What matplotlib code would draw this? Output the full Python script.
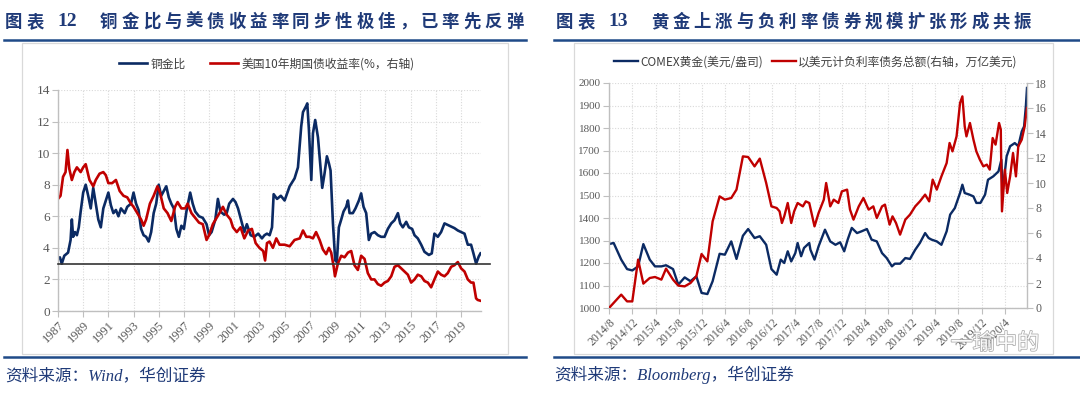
import matplotlib
matplotlib.use('Agg')
import matplotlib.pyplot as plt
from matplotlib.lines import Line2D
from matplotlib.patches import Rectangle
import matplotlib.patheffects as pe

# ---------------- data: left chart (copper/gold ratio & US 10Y) ----------------
ratio_year = [1987.0, 1987.15, 1987.3, 1987.5, 1987.8, 1988.0, 1988.1, 1988.2, 1988.35, 1988.5,
              1988.65, 1988.8, 1989.0, 1989.2, 1989.4, 1989.6, 1989.8, 1990.0, 1990.2, 1990.4,
              1990.6, 1990.8, 1991.0, 1991.2, 1991.4, 1991.6, 1991.8, 1992.0, 1992.3, 1992.5,
              1992.8, 1993.0, 1993.2, 1993.4, 1993.6, 1993.8, 1994.0, 1994.2, 1994.4, 1994.6,
              1994.8, 1995.0, 1995.2, 1995.4, 1995.6, 1995.8, 1996.0, 1996.2, 1996.4, 1996.6,
              1996.8, 1997.0, 1997.2, 1997.5, 1997.7, 1997.9, 1998.2, 1998.5, 1998.8, 1999.0,
              1999.2, 1999.5, 1999.7, 1999.9, 2000.2, 2000.4, 2000.6, 2000.9, 2001.1, 2001.3,
              2001.6, 2001.8, 2002.0, 2002.3, 2002.6, 2002.9, 2003.2, 2003.4, 2003.6, 2003.81,
              2004.0, 2004.13, 2004.4, 2004.7, 2005.0, 2005.4, 2005.79, 2006.06, 2006.32, 2006.46,
              2006.72, 2006.8, 2006.93, 2007.12, 2007.25, 2007.43, 2007.65, 2007.78, 2007.99, 2008.17,
              2008.36, 2008.52, 2008.65, 2008.84, 2009.02, 2009.15, 2009.31, 2009.5, 2009.68, 2009.89,
              2010.03, 2010.16, 2010.42, 2010.63, 2010.9, 2011.08, 2011.27, 2011.48, 2011.69, 2011.88,
              2012.14, 2012.41, 2012.67, 2012.94, 2013.2, 2013.47, 2013.73, 2014.0, 2014.18, 2014.39,
              2014.66, 2014.87, 2015.13, 2015.32, 2015.58, 2015.85, 2016.11, 2016.46, 2016.69, 2016.9,
              2017.17, 2017.43, 2017.7, 2017.96, 2018.23, 2018.49, 2018.76, 2019.02, 2019.29, 2019.55,
              2019.81, 2020.0, 2020.21, 2020.42, 2020.56]
ratio_val = [3.3, 3.4, 3.0, 3.5, 3.7, 4.5, 5.8, 4.7, 5.0, 4.8,
             5.3, 6.3, 7.5, 8.0, 7.3, 6.5, 7.8, 6.8, 5.8, 5.3,
             6.5, 7.0, 7.5, 6.7, 6.2, 6.4, 6.0, 6.5, 6.2, 6.6,
             6.8, 7.5, 6.8, 6.4, 5.2, 4.8, 4.7, 4.4, 5.0, 6.2,
             6.8, 8.0, 7.3, 7.6, 7.9, 7.2, 6.8, 6.5, 5.2, 4.7,
             5.4, 5.2, 6.3, 7.5, 6.8, 6.3, 6.0, 5.9, 5.5, 4.8,
             5.0, 5.8, 7.1, 6.3, 6.1, 6.2, 6.8, 7.1, 6.9, 6.5,
             5.6, 5.0, 5.5, 4.8, 4.7, 4.9, 4.6, 4.8, 4.9, 4.8,
             5.3, 7.4, 7.1, 7.3, 7.0, 7.9, 8.4, 9.1, 11.7, 12.6,
             13.0, 13.15, 11.5, 8.3, 11.25, 12.1, 11.0, 9.8, 7.8, 8.7,
             9.8, 9.35, 8.9, 5.55, 3.2, 3.1, 5.3, 5.8, 6.3, 6.6,
             7.0, 6.2, 6.2, 6.5, 7.0, 7.45, 6.6, 6.2, 4.5, 4.9,
             5.0, 4.8, 4.7, 4.7, 5.2, 5.55, 5.75, 6.2, 5.55, 5.3,
             5.65, 5.3, 5.2, 4.8, 4.6, 4.2, 3.75, 3.55, 3.65, 4.9,
             4.7, 5.0, 5.55, 5.45, 5.35, 5.25, 5.1, 5.0, 4.9, 4.2,
             4.2, 3.65, 3.0, 3.45, 3.65]

yield_year = [1987.0, 1987.2, 1987.4, 1987.6, 1987.75, 1987.9, 1988.1, 1988.3, 1988.5, 1988.8,
              1989.0, 1989.2, 1989.5, 1989.8, 1990.0, 1990.3, 1990.6, 1990.8, 1991.0, 1991.3,
              1991.6, 1991.9, 1992.2, 1992.5, 1992.8, 1993.0, 1993.3, 1993.6, 1993.8, 1994.0,
              1994.3, 1994.6, 1994.9, 1995.1, 1995.4, 1995.7, 1996.0, 1996.3, 1996.5, 1996.8,
              1997.1, 1997.3, 1997.6, 1997.9, 1998.2, 1998.5, 1998.8, 1999.0, 1999.3, 1999.6,
              1999.9, 2000.1, 2000.4, 2000.7, 2000.9, 2001.2, 2001.5, 2001.8, 2002.1, 2002.4,
              2002.7, 2003.0, 2003.3, 2003.45, 2003.6, 2003.8, 2004.07, 2004.34, 2004.6, 2005.0,
              2005.4, 2005.79, 2006.2, 2006.46, 2006.72, 2006.98, 2007.25, 2007.5, 2007.78, 2008.04,
              2008.3, 2008.52, 2008.7, 2008.9, 2009.0, 2009.23, 2009.5, 2009.76, 2010.03, 2010.29,
              2010.55, 2010.82, 2011.08, 2011.35, 2011.61, 2011.88, 2012.14, 2012.41, 2012.67, 2012.94,
              2013.2, 2013.47, 2013.73, 2014.0, 2014.26, 2014.52, 2014.79, 2015.05, 2015.32, 2015.58,
              2015.85, 2016.11, 2016.38, 2016.64, 2016.9, 2017.17, 2017.43, 2017.7, 2017.96, 2018.23,
              2018.49, 2018.76, 2019.02, 2019.29, 2019.55, 2019.81, 2020.0, 2020.21, 2020.34, 2020.56]
yield_val = [7.1, 7.3, 8.5, 8.8, 10.2, 9.0, 8.3, 8.8, 9.1, 8.8,
             9.1, 9.3, 8.3, 7.9, 8.3, 8.7, 8.8, 8.6, 8.1, 8.1,
             8.3, 7.6, 7.3, 7.2, 6.8, 6.6, 6.2, 5.8, 5.4, 5.8,
             6.8, 7.3, 7.9, 7.5, 6.5, 6.2, 5.7, 6.6, 6.9, 6.5,
             6.5, 6.8, 6.2, 5.9, 5.6, 5.5, 4.5, 4.8, 5.5, 5.9,
             6.3, 6.6, 6.1, 5.8, 5.3, 5.0, 5.3, 4.6, 5.1, 5.2,
             4.3, 4.0, 3.8, 3.2, 4.3, 4.4, 4.0, 4.6, 4.2, 4.2,
             4.1, 4.5, 4.6, 5.1, 4.7, 4.7, 4.6, 5.0, 4.5, 3.9,
             3.6, 4.0, 3.7, 2.8, 2.2, 3.0, 3.5, 3.4, 3.7, 3.8,
             2.9, 2.6, 3.5, 3.3, 2.4, 2.0, 2.0, 1.7, 1.6, 1.8,
             1.9, 2.2, 2.8, 2.9, 2.7, 2.5, 2.3, 1.8, 2.0, 2.3,
             2.2, 1.9, 1.8, 1.5, 2.0, 2.5, 2.3, 2.2, 2.4, 2.8,
             2.9, 3.1, 2.7, 2.5, 2.0, 1.8, 1.8, 0.8, 0.7, 0.65]

ref_level = 3.0
left_xticks = list(range(1987, 2020, 2))
left_yticks = list(range(0, 15, 2))

# ---------------- data: right chart (gold & negative-yield debt) ----------------
right_xlabels = ['2014/8', '2014/12', '2015/4', '2015/8', '2015/12', '2016/4', '2016/8', '2016/12',
                 '2017/4', '2017/8', '2017/12', '2018/4', '2018/8', '2018/12', '2019/4', '2019/8',
                 '2019/12', '2020/4']
right_xticks = [4 * i for i in range(len(right_xlabels))]   # months since 2014/8

gold_month = [0, 0.8, 2.1, 3.1, 4, 5, 5.9, 7, 7.9, 9, 9.8, 11, 11.9, 13, 14, 15, 15.9, 16.9, 17.8, 19,
              19.9, 21, 21.9, 23, 23.9, 25, 25.9, 27, 27.9, 28.8, 29.5, 30.1, 30.7, 31.3, 32, 32.4, 33,
              33.5, 34.4, 34.6, 35.3, 36, 37.1, 38, 38.9, 39.7, 40.4, 41, 41.7, 42.6, 43.4, 44.3, 45.1,
              46, 46.9, 47.7, 48.6, 49.1, 50, 50.9, 51.7, 52.6, 53.4, 54.3, 54.9, 55.4, 56.3, 57.1,
              58, 58.6, 59.4, 60.3, 60.7, 61.1, 61.9, 62.6, 63.1, 63.8, 64.6, 65.1, 66, 66.9, 67.4,
              67.6, 68.3, 68.9, 69.7, 70.3, 70.9, 71.3, 71.6, 71.8]
gold_val = [1284, 1289, 1215, 1173, 1167, 1185, 1284, 1215, 1185, 1185, 1190, 1173, 1104, 1136, 1119,
            1141, 1067, 1062, 1119, 1241, 1237, 1296, 1218, 1321, 1351, 1311, 1319, 1281, 1173, 1148,
            1215, 1200, 1252, 1207, 1244, 1289, 1230, 1267, 1289, 1259, 1215, 1274, 1348, 1296, 1281,
            1292, 1252, 1304, 1356, 1333, 1341, 1351, 1304, 1296, 1244, 1222, 1185, 1197, 1197, 1222,
            1218, 1259, 1289, 1333, 1311, 1304, 1296, 1281, 1341, 1415, 1444, 1511, 1548, 1511, 1504,
            1496, 1467, 1467, 1504, 1570, 1585, 1607, 1659, 1511, 1674, 1719, 1733, 1719, 1785, 1807,
            1896, 1978]

neg_month = [0, 2.1, 3.1, 4, 5, 5.9, 7, 7.9, 9, 9.8, 11, 11.9, 13, 14, 15, 15.9, 16.9, 17.8, 19, 19.9,
             21, 21.9, 23, 23.9, 25, 25.9, 27, 27.9, 28.8, 29.3, 29.7, 30.1, 30.7, 31.3, 31.8, 32.4,
             33.3, 33.8, 34.4, 35.3, 36, 36.9, 37.3, 38, 38.6, 39.4, 40, 40.9, 41.4, 42, 42.9, 43.7,
             44.6, 45.4, 46, 46.9, 47.4, 48.2, 48.7, 49.3, 50, 50.9, 51.7, 52.6, 53.4, 54.3, 55, 55.6,
             56.3, 57.1, 58, 58.5, 59, 59.7, 60.3, 60.7, 61.1, 61.4, 62, 62.6, 63.1, 63.7, 64.3, 64.9,
             65.4, 65.9, 66.4, 67, 67.3, 67.4, 67.5, 68, 68.4, 68.9, 69.4, 69.9, 70.3, 70.9, 71.4, 71.8]
neg_val = [0.0, 1.07, 0.53, 0.53, 3.87, 1.95, 2.4, 2.48, 2.27, 3.15, 2.27, 1.79, 1.73, 2.0, 2.53, 4.32,
           3.73, 6.93, 8.93, 8.67, 8.8, 9.47, 12.13, 12.08, 11.33, 11.95, 10.0, 8.13, 8.0, 7.73, 6.8,
           7.33, 8.4, 6.8, 7.73, 8.4, 8.13, 8.53, 8.4, 6.53, 7.6, 8.67, 10.0, 8.13, 8.67, 8.4, 9.33,
           9.47, 7.87, 7.07, 8.13, 8.8, 7.87, 8.13, 7.2, 8.13, 8.27, 6.67, 7.33, 6.8, 5.87, 7.07, 7.47,
           8.13, 8.53, 9.07, 8.53, 10.27, 9.47, 10.53, 11.6, 13.2, 12.53, 13.73, 16.4, 16.93, 14.53,
           13.73, 14.8, 13.47, 12.53, 11.87, 11.33, 11.47, 11.07, 13.6, 13.07, 14.8, 14.27, 10.53,
           7.73, 11.07, 9.2, 10.53, 12.4, 10.53, 12.93, 13.47, 14.53, 16.0]
right_yticks_l = list(range(1000, 2001, 100))
right_yticks_r = list(range(0, 19, 2))

# ---------------- styling ----------------
W, H = 1080, 393
plt.rcParams['font.family'] = ['Liberation Serif', 'Noto Sans CJK SC', 'DejaVu Sans']
fig = plt.figure(figsize=(W / 100, H / 100), dpi=100)
fig.patch.set_facecolor('white')

def fx(x):
    return x / W

def fy(y):
    return 1 - y / H

NAVY = '#0b2a63'
RED = '#c00000'
TITLE = '#1f3a78'
RULE = '#1f4a88'
GRID = '#d9d9d9'
SPINE = '#bfbfbf'
TICKC = '#595959'
CJK = ['Noto Sans CJK SC', 'DejaVu Sans']

def spaced(x0, y, s, pitch, **kw):
    for i, ch in enumerate(s):
        fig.text(fx(x0 + i * pitch), fy(y), ch, ha='left', va='center', **kw)

def title(x0, num, rest):
    kw = dict(fontsize=12.5, fontweight='bold', color=TITLE, family=CJK)
    spaced(x0, 22, '图表', 21.3, **kw)
    fig.text(fx(x0 + 52), fy(22), num, ha='left', va='center', fontsize=14,
             fontweight='bold', color=TITLE, family=['Liberation Serif'])
    spaced(x0 + 95, 22, rest, 21.35, **kw)

title(5, '12', '铜金比与美债收益率同步性极佳，已率先反弹')
title(556, '13', '黄金上涨与负利率债券规模扩张形成共振')

for (a, b) in [(3.5, 526), (554, 1080)]:
    for yy in (40, 357):
        fig.add_artist(Line2D([fx(a), fx(b)], [fy(yy), fy(yy)], color=RULE, lw=1.8,
                              transform=fig.transFigure))

for (a, b) in [(21.5, 508), (574, 1053)]:
    fig.add_artist(Rectangle((fx(a), fy(354)), fx(b) - fx(a), (354 - 43) / H, fill=False,
                             ec='#d9d9d9', lw=0.9, transform=fig.transFigure))

src_kw = dict(fontsize=12, style='italic', color=TITLE, va='center', ha='left',
              family=['Liberation Serif', 'Noto Sans CJK SC'])
fig.text(fx(5), fy(376), '资料来源：Wind，华创证券', **src_kw)
fig.text(fx(554), fy(375), '资料来源：Bloomberg，华创证券', **src_kw)

def style_axes(ax, spines_on, size):
    for s in ['top', 'right', 'left', 'bottom']:
        ax.spines[s].set_visible(s in spines_on)
        ax.spines[s].set_color(SPINE)
        ax.spines[s].set_linewidth(1.0)
    ax.tick_params(direction='out', length=4, width=0.8, color=SPINE, labelcolor=TICKC,
                   labelsize=size, pad=2)

# ---------------- left chart ----------------
ax1 = fig.add_axes([fx(58), fy(311), (481 - 58) / W, (311 - 90) / H])
l1, = ax1.plot(ratio_year, ratio_val, color=NAVY, lw=1.9, label='铜金比')
l2, = ax1.plot(yield_year, yield_val, color=RED, lw=1.9, label='美国10年期国债收益率(%，右轴)')
ax1.axhline(ref_level, xmin=0, xmax=1.021, color='#333333', lw=1.2, clip_on=False, zorder=3)
ax1.set_xlim(1987, 2020.6)
ax1.set_ylim(0, 14)
ax1.set_xticks(left_xticks)
ax1.set_xticklabels([str(v) for v in left_xticks], rotation=45, ha='right',
                    rotation_mode='anchor')
ax1.set_yticks(left_yticks)
ax1.grid(True, color=GRID, ls=(0, (1, 1.5)), lw=0.8)
ax1.set_axisbelow(True)
style_axes(ax1, ['left', 'bottom'], 9)
ax1.tick_params(axis='y', labelsize=9.5)

fig.legend([l1, l2], [l1.get_label(), l2.get_label()], loc='center',
           bbox_to_anchor=(fx(267), fy(64)), bbox_transform=fig.transFigure, ncol=2,
           frameon=False, prop={'family': CJK, 'size': 8.5}, labelcolor='#404040',
           handlelength=2.4, handletextpad=0.3, columnspacing=2.0)

# ---------------- right chart ----------------
ax2 = fig.add_axes([fx(609), fy(308), (1027 - 609) / W, (308 - 83) / H])
ax2r = ax2.twinx()
g1, = ax2.plot(gold_month, gold_val, color=NAVY, lw=1.7, label='COMEX黄金(美元/盎司)')
g2, = ax2r.plot(neg_month, neg_val, color=RED, lw=1.7, label='以美元计负利率债务总额(右轴，万亿美元)')
ax2.set_xlim(0, 71.8)
ax2.set_ylim(1000, 2000)
ax2r.set_ylim(0, 18)
ax2.set_yticks(right_yticks_l)
ax2r.set_yticks(right_yticks_r)
ax2.set_xticks(right_xticks)
ax2.set_xticklabels(right_xlabels, rotation=45, ha='right', rotation_mode='anchor')
ax2.grid(True, color=GRID, ls=(0, (1, 1.5)), lw=0.8)
ax2.set_axisbelow(True)
style_axes(ax2, ['left', 'bottom'], 8)
style_axes(ax2r, ['right'], 8.5)
ax2.tick_params(axis='x', labelsize=8.5)

fig.legend([g1, g2], [g1.get_label(), g2.get_label()], loc='center',
           bbox_to_anchor=(fx(816), fy(62)), bbox_transform=fig.transFigure, ncol=2,
           frameon=False, prop={'family': CJK, 'size': 8.5}, labelcolor='#404040',
           handlelength=2.0, handletextpad=0.2, columnspacing=0.8)

# watermark
fig.text(fx(995), fy(343), '一瑜中的', fontsize=16, color='white', family=CJK, ha='center',
         va='center', alpha=0.95,
         path_effects=[pe.withStroke(linewidth=1.0, foreground='#a0a0a0')])

fig.savefig('out.png', dpi=100, facecolor='white')
